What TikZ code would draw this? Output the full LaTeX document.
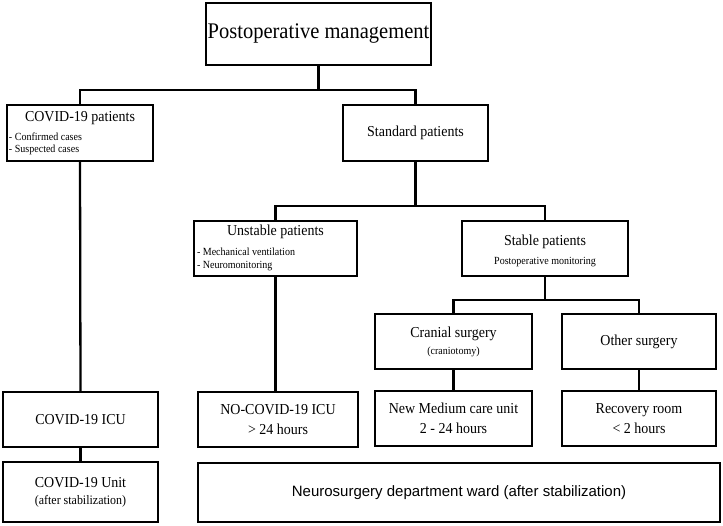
\documentclass[tikz,border=0pt]{standalone}
\usepackage{fontspec}
\setmainfont[FakeStretch=0.92]{Liberation Serif}
\newfontfamily\arialf{Liberation Sans}
\begin{document}
\begin{tikzpicture}[x=1pt,y=-1pt,
  box/.style={draw=black, line width=2.5pt, fill=white, inner sep=0pt, outer sep=0pt, align=center},
  conn/.style={draw=black, line width=2.3pt},
  big/.style={font=\fontsize{15.2}{20}\selectfont},
  small/.style={font=\fontsize{10.9}{12}\selectfont},
  txt/.style={inner sep=0pt, outer sep=0pt}]
\useasboundingbox (0,0) rectangle (723,526);
% level 0
\node[box, minimum width=225pt, minimum height=62pt, font=\fontsize{22.3}{26}\selectfont] (top) at (318.5,34) {Postoperative management};
% level 1
\node[box, minimum width=146pt, minimum height=56pt] (cp) at (80,133) {};
\node[txt, big] (cpt) at (80,118) {COVID-19 patients};
\node[txt, small, anchor=west] (cpa) at (9,137) {- Confirmed cases};
\node[txt, small, anchor=west] (cpb) at (9,149.5) {- Suspected cases};
\node[box, big, minimum width=145pt, minimum height=56pt] (sp) at (415.5,133) {Standard patients};
% level 2
\node[box, minimum width=163pt, minimum height=55pt] (un) at (275.5,248.5) {};
\node[txt, big] (unt) at (275.5,232) {Unstable patients};
\node[txt, small, anchor=west] (una) at (197,252) {- Mechanical ventilation};
\node[txt, small, anchor=west] (unb) at (197,266) {- Neuromonitoring};
\node[box, minimum width=166pt, minimum height=55pt] (st) at (545,248.5) {};
\node[txt, big] (stt) at (545,242) {Stable patients};
\node[txt, small] (sts) at (545,262) {Postoperative monitoring};
% level 3
\node[box, minimum width=157pt, minimum height=55pt] (cr) at (453.5,341.5) {};
\node[txt, big] (crt) at (453.5,334) {Cranial surgery};
\node[txt, small] (crs) at (453.5,352) {(craniotomy)};
\node[box, big, minimum width=154pt, minimum height=55pt] (ot) at (639,341.5) {Other surgery};
% level 4
\node[box, big, minimum width=155pt, minimum height=55pt] (ci) at (80.5,419.5) {COVID-19 ICU};
\node[box, big, minimum width=160pt, minimum height=55pt] (nc) at (278,419.5) {NO-COVID-19 ICU\\{>} 24 hours};
\node[box, big, minimum width=157pt, minimum height=55pt] (nm) at (453.5,418.5) {New Medium care unit\\2 - 24 hours};
\node[box, big, minimum width=154pt, minimum height=55pt] (rr) at (639,418.5) {Recovery room\\{<} 2 hours};
% level 5
\node[box, minimum width=155pt, minimum height=60pt, font=\fontsize{15.2}{17}\selectfont] (cu) at (80.5,492) {COVID-19 Unit\\{\fontsize{13}{14}\selectfont (after stabilization)}};
\node[box, minimum width=522pt, minimum height=59pt, font=\arialf\fontsize{15}{18}\selectfont] (nw) at (459,492.5) {Neurosurgery department ward (after stabilization)};
% junctions
\coordinate (j1) at (318.5,90);
\coordinate (j2) at (415.5,206);
\coordinate (j3) at (545,300);
% connectors
\draw[conn] (top.south) -- (j1);
\draw[conn] (j1) -| (cp.north);
\draw[conn] (j1) -| (sp.north);
\draw[conn] (sp.south) -- (j2);
\draw[conn] (j2) -| (un.north);
\draw[conn] (j2) -| (st.north);
\draw[conn] (st.south) -- (j3);
\draw[conn] (j3) -| (cr.north);
\draw[conn] (j3) -| (ot.north);
\draw[conn] (cp.south) -- (ci.north);
\draw[conn] (ci.south) -- (cu.north);
\draw[conn] (un.south) -- (un.south |- nc.north);
\draw[conn] (cr.south) -- (nm.north);
\draw[conn] (ot.south) -- (rr.north);
\end{tikzpicture}
\end{document}
